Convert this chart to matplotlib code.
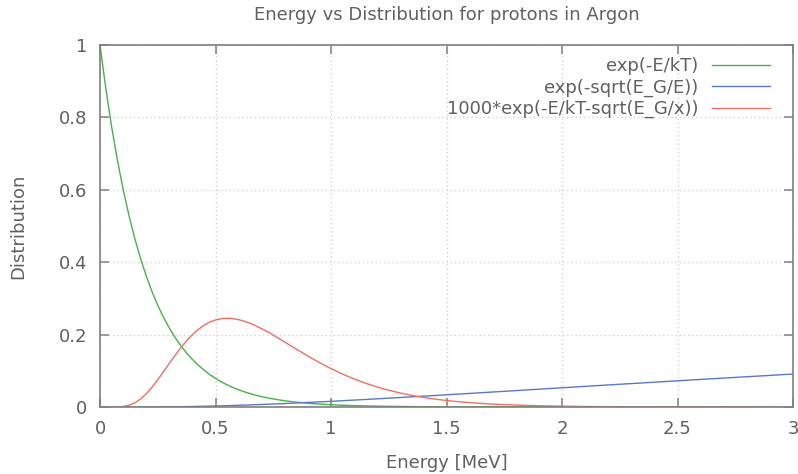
import matplotlib
matplotlib.use("Agg")
import matplotlib.pyplot as plt
from matplotlib.ticker import FormatStrFormatter

plt.rcParams['font.family'] = ['DejaVu Sans']
plt.rcParams['font.size'] = 13

# energies (MeV) the curves were read at
energy = [0.0, 0.025, 0.05, 0.075, 0.1, 0.125, 0.15, 0.175, 0.2, 0.225,
          0.25, 0.275, 0.3, 0.325, 0.35, 0.375, 0.4, 0.425, 0.45, 0.475,
          0.5, 0.525, 0.55, 0.575, 0.6, 0.625, 0.65, 0.675, 0.7, 0.725,
          0.75, 0.775, 0.8, 0.825, 0.85, 0.875, 0.9, 0.925, 0.95, 0.975,
          1.0, 1.05, 1.1, 1.15, 1.2, 1.25, 1.3, 1.35, 1.4, 1.45,
          1.5, 1.55, 1.6, 1.65, 1.7, 1.75, 1.8, 1.85, 1.9, 1.95,
          2.0, 2.1, 2.2, 2.3, 2.4, 2.5, 2.6, 2.7, 2.8, 2.9, 3.0]

# exp(-E/kT)
boltzmann = [1.0, 0.8808, 0.7758, 0.6834, 0.6019, 0.5302, 0.4670, 0.4114, 0.3623, 0.3191,
             0.2811, 0.2476, 0.2181, 0.1921, 0.1692, 0.1490, 0.1313, 0.1156, 0.1019, 0.0897,
             0.0790, 0.0696, 0.0613, 0.0540, 0.0476, 0.0419, 0.0369, 0.0325, 0.0286, 0.0252,
             0.0222, 0.0196, 0.0172, 0.0152, 0.0134, 0.0118, 0.0104, 0.0091, 0.0081, 0.0071,
             0.0062, 0.0048, 0.0038, 0.0029, 0.0023, 0.0018, 0.0014, 0.0011, 0.0008, 0.0006,
             0.0005, 0.0004, 0.0003, 0.0002, 0.0002, 0.0001, 0.0001, 0.0001, 0.0001, 0.0001,
             0.0, 0.0, 0.0, 0.0, 0.0, 0.0, 0.0, 0.0, 0.0, 0.0, 0.0]

# exp(-sqrt(E_G/E))
gamow = [0.0, 0.0, 0.0, 0.0, 0.0, 0.0, 0.0, 0.0, 0.0001, 0.0002,
         0.0002, 0.0004, 0.0005, 0.0007, 0.0009, 0.0011, 0.0014, 0.0017, 0.0021, 0.0024,
         0.0028, 0.0032, 0.0037, 0.0042, 0.0047, 0.0052, 0.0058, 0.0064, 0.0070, 0.0076,
         0.0083, 0.0089, 0.0096, 0.0103, 0.0111, 0.0118, 0.0126, 0.0133, 0.0141, 0.0149,
         0.0157, 0.0174, 0.0191, 0.0208, 0.0226, 0.0244, 0.0262, 0.0281, 0.0299, 0.0318,
         0.0337, 0.0356, 0.0375, 0.0395, 0.0414, 0.0433, 0.0453, 0.0472, 0.0492, 0.0511,
         0.0531, 0.0570, 0.0609, 0.0647, 0.0685, 0.0724, 0.0762, 0.0799, 0.0836, 0.0873, 0.0910]

# 1000*exp(-E/kT-sqrt(E_G/x))
peak = [0.0, 0.0, 0.0, 0.0002, 0.0013, 0.0045, 0.0111, 0.0217, 0.0363, 0.0544,
        0.0751, 0.0974, 0.1202, 0.1425, 0.1636, 0.1828, 0.1998, 0.2140, 0.2257, 0.2344,
        0.2405, 0.2439, 0.2451, 0.2442, 0.2413, 0.2369, 0.2311, 0.2241, 0.2162, 0.2076,
        0.1985, 0.1890, 0.1793, 0.1696, 0.1598, 0.1503, 0.1407, 0.1316, 0.1228, 0.1142,
        0.1061, 0.0910, 0.0775, 0.0656, 0.0552, 0.0462, 0.0386, 0.0320, 0.0265, 0.0218,
        0.0180, 0.0147, 0.0120, 0.0098, 0.0080, 0.0065, 0.0053, 0.0043, 0.0034, 0.0028,
        0.0022, 0.0014, 0.0009, 0.0006, 0.0004, 0.0002, 0.0002, 0.0001, 0.0001, 0.0, 0.0]

labels = ["exp(-E/kT)", "exp(-sqrt(E_G/E))", "1000*exp(-E/kT-sqrt(E_G/x))"]
colors = ["#45b445", "#5b78c8", "#f06e62"]

xticks = [0, 0.5, 1, 1.5, 2, 2.5, 3]
yticks = [0, 0.2, 0.4, 0.6, 0.8, 1]

text_grey = "#606060"
frame_grey = "#808080"

fig = plt.figure(figsize=(7.98, 4.74), dpi=100)
ax = fig.add_axes([100/798, 1 - 407/474, 693/798, 362/474])

for ys, lab, col in zip([boltzmann, gamow, peak], labels, colors):
    ax.plot(energy, ys, color=col, lw=1.0, label=lab)

ax.set_xlim(0, 3)
ax.set_ylim(0, 1)
ax.set_xticks(xticks)
ax.set_yticks(yticks)
ax.xaxis.set_major_formatter(FormatStrFormatter('%g'))
ax.yaxis.set_major_formatter(FormatStrFormatter('%g'))
ax.tick_params(axis='both', direction='in', length=6.5, width=1.1,
               color=frame_grey, labelcolor=text_grey,
               top=True, right=True)
ax.tick_params(axis='x', pad=9)
ax.tick_params(axis='y', pad=9)
for s in ax.spines.values():
    s.set_color(frame_grey)
    s.set_linewidth(1.2)

ax.grid(True, color='#d4d4c4', lw=1.0, linestyle=(0, (1, 2)))
ax.set_axisbelow(True)

ax.set_title("Energy vs Distribution for protons in Argon", color=text_grey,
             fontsize=13, pad=18)
ax.set_xlabel("Energy [MeV]", color=text_grey)
ax.set_ylabel("Distribution", color=text_grey)
ax.xaxis.set_label_coords(0.5, -0.131)
ax.yaxis.set_label_coords(-0.105, 0.5)

leg = ax.legend(loc='upper right', bbox_to_anchor=(0.967, 0.967), markerfirst=False,
                frameon=False, borderaxespad=0, borderpad=0, handlelength=3.2,
                handletextpad=0.78, labelspacing=0.19)
for t in leg.get_texts():
    t.set_color(text_grey)

fig.savefig("out.png", dpi=100)
